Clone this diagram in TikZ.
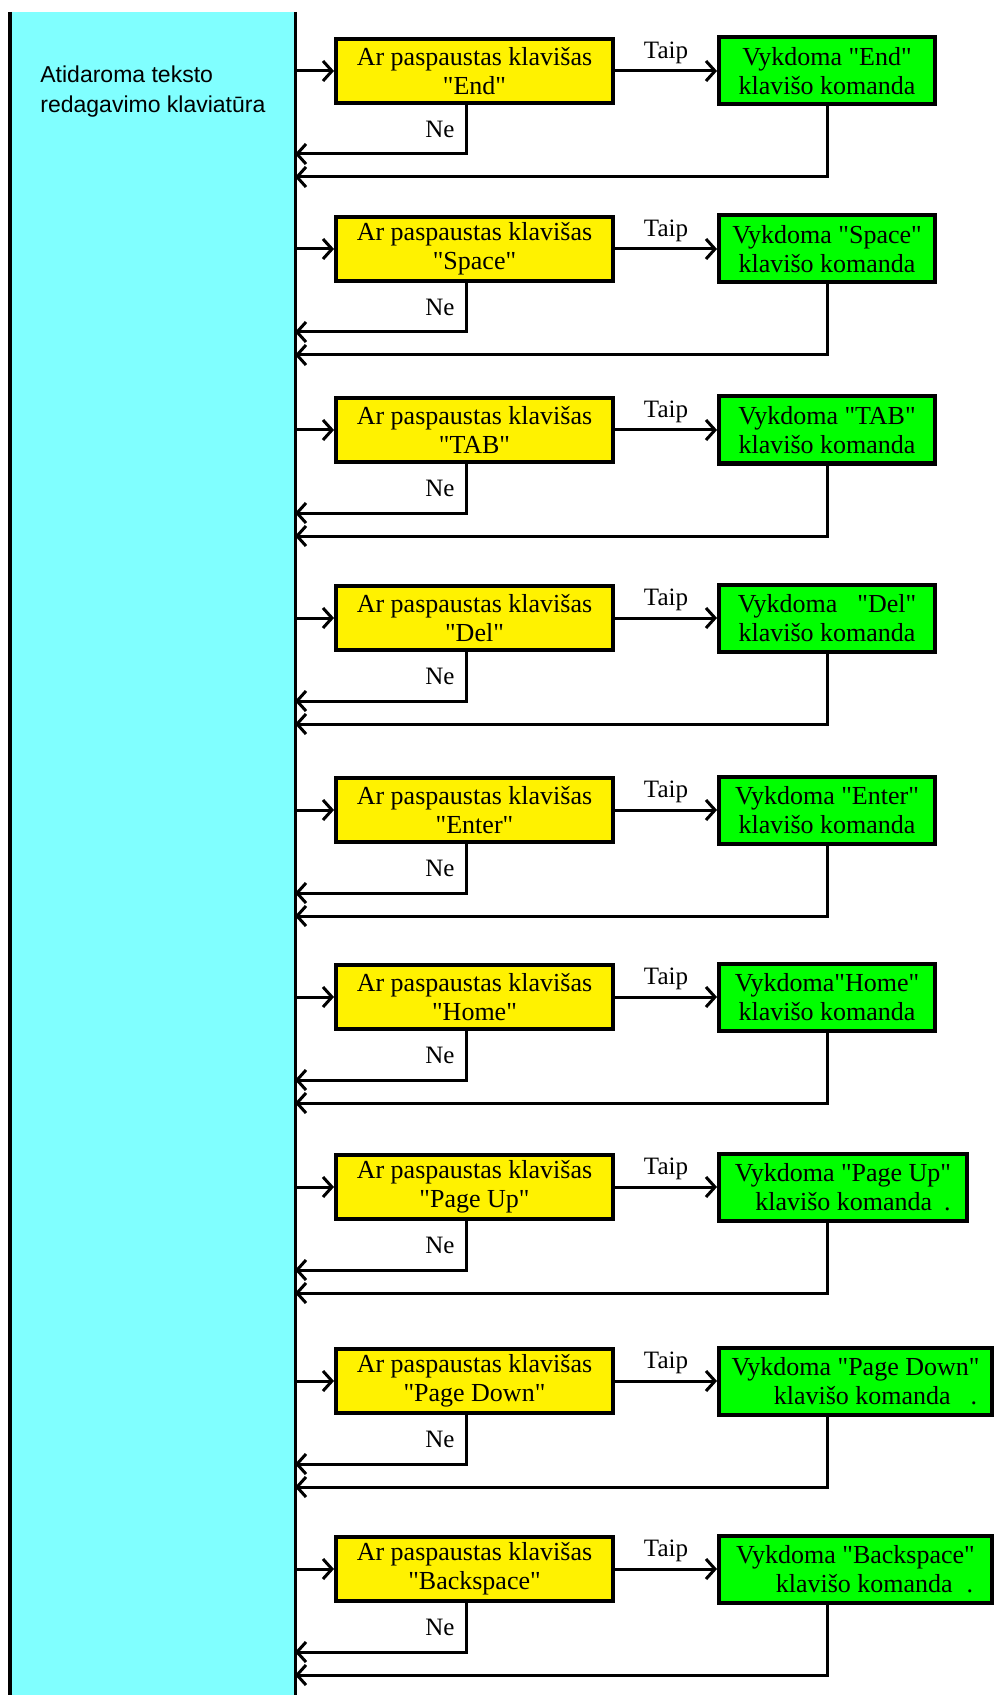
\documentclass[tikz,border=0pt]{standalone}
\usepackage{fontspec}
\setmainfont{Liberation Serif}[Ligatures=TeXOff]
\newfontfamily\sansfnt{Liberation Sans}
\usetikzlibrary{positioning,arrows.meta}
\definecolor{buscyan}{RGB}{128,255,255}
\tikzset{
  bus/.style={fill=buscyan, inner sep=0pt, outer sep=0pt, minimum width=142.5pt, minimum height=841.5pt},
  query/.style={draw, line width=2pt, fill=yellow, minimum width=138.5pt, minimum height=32pt, inner sep=0pt, align=center, font=\fontsize{13pt}{14.5pt}\selectfont},
  action/.style={draw, line width=2pt, fill=green, minimum height=33.5pt, inner sep=0pt, align=center, font=\fontsize{13pt}{14.5pt}\selectfont},
  arr/.style={-{Straight Barb[length=4.5pt,width=10pt]}, line width=1.5pt},
  lbl/.style={font=\fontsize{12.5pt}{14pt}\selectfont, inner sep=0pt},
}

\begin{document}
\begin{tikzpicture}[x=0.5pt, y=-0.5pt]
    \useasboundingbox (0,0) rectangle (996,1695);
    \node[bus, anchor=north west] (bus) at (10,12) {};
    \draw[line width=2pt] (bus.north west) -- (bus.south west);
    \draw[line width=1.5pt] (bus.north east) -- (bus.south east);
    \node[anchor=north west, align=left, inner sep=0pt, font=\sansfnt\fontsize{11.5pt}{15pt}\selectfont] (title) at (40,65) {Atidaroma teksto\\redagavimo klaviatūra};
    \foreach \t/\k/\w/\txt [count=\i] in {
        37/End/108/{Vykdoma "End"\\klavišo komanda},
        215/Space/108/{Vykdoma "Space"\\klavišo komanda},
        396/TAB/108/{Vykdoma "TAB"\\klavišo komanda},
        584/Del/108/{Vykdoma\hspace{10pt}"Del"\\klavišo komanda},
        776/Enter/108/{Vykdoma "Enter"\\klavišo komanda},
        963/Home/108/{Vykdoma"Home"\\klavišo komanda},
        1153/Page Up/124/{Vykdoma "Page Up"\\\hspace*{10pt}klavišo komanda\hspace{6pt}.},
        1347/Page Down/136.5/{Vykdoma "Page Down"\\\hspace*{20pt}klavišo komanda\hspace{10pt}.},
        1535/Backspace/136.5/{Vykdoma "Backspace"\\\hspace*{19pt}klavišo komanda\hspace{7pt}.}}{
        \node[query, anchor=north west] (q\i) at (334,\t) {Ar paspaustas klavišas\\"\k"};
        \node[action, minimum width=\w pt, right=51pt of q\i] (a\i) {\txt};
        \coordinate (n\i) at (466,{\t+117});
        \coordinate (r\i) at (827,{\t+140});
        \draw[arr] (bus.east |- q\i.west) -- (q\i.west);
        \draw[arr] (q\i.east) -- node[lbl, above=3pt] {Taip} (q\i.east -| a\i.west);
        \draw[arr] (q\i.south -| n\i) -- node[lbl, left=5pt] {Ne} (n\i) -- (n\i -| bus.east);
        \draw[arr] (a\i.south -| r\i) -- (r\i) -- (r\i -| bus.east);
    }
\end{tikzpicture}
\end{document}
